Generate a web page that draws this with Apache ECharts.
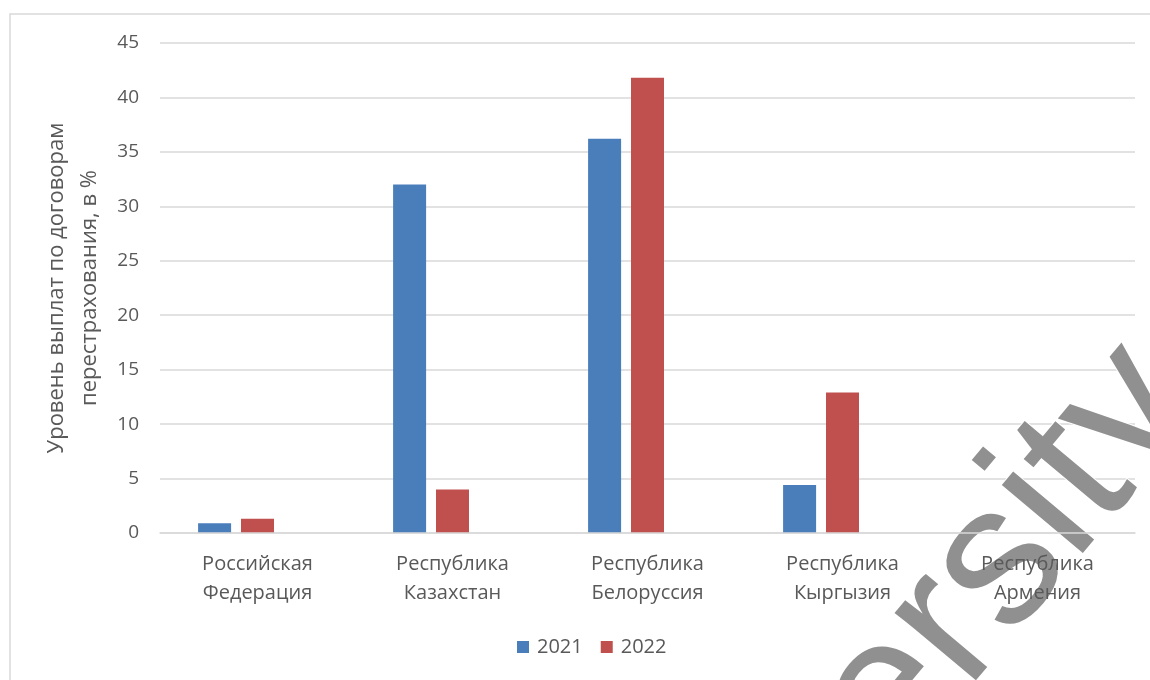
<!DOCTYPE html>
<html>
<head>
<meta charset="utf-8">
<script src="https://cdn.jsdelivr.net/npm/echarts@6/dist/echarts.min.js"></script>
<style>html,body{margin:0;padding:0;background:#fff;}#c{width:1150px;height:680px;}</style>
</head>
<body>
<div id="c"></div>
<script>
const categories = ['Российская\nФедерация', 'Республика\nКазахстан', 'Республика\nБелоруссия', 'Республика\nКыргызия', 'Республика\nАрмения'];
const values2021 = [0.9, 32.0, 36.2, 4.4, 0];
const values2022 = [1.3, 4.0, 41.8, 12.9, 0];
const yTicks = {min: 0, max: 45, interval: 5};
const yTitle = 'Уровень выплат по договорам\nперестрахования, в %';
const watermark = 'ersity';

const chart = echarts.init(document.getElementById('c'));
const font = '"Open Sans", "Noto Sans", sans-serif';
chart.setOption({
  animation: false,
  backgroundColor: '#fff',
  textStyle: {fontFamily: font},
  grid: {left: 160, right: 15, top: 43, bottom: 147},
  legend: {
    data: ['2021', '2022'], bottom: 18, left: 512,
    itemWidth: 12, itemHeight: 12, itemGap: 18,
    icon: 'rect',
    textStyle: {fontSize: 20, color: '#595959', fontFamily: font, padding: [0, 0, 0, 3]}
  },
  xAxis: {
    type: 'category', data: categories, z: 5,
    axisLine: {lineStyle: {color: '#d9d9d9', width: 1.5}},
    axisTick: {show: false},
    axisLabel: {fontSize: 20, color: '#595959', lineHeight: 29, margin: 17, interval: 0, fontFamily: font}
  },
  yAxis: {
    type: 'value', min: yTicks.min, max: yTicks.max, interval: yTicks.interval,
    name: yTitle, nameLocation: 'middle', nameGap: 34, nameRotate: 90,
    nameTextStyle: {fontSize: 22, color: '#595959', lineHeight: 33, fontFamily: font},
    axisLabel: {fontSize: 19, color: '#595959', margin: 21, fontFamily: font},
    splitLine: {lineStyle: {color: '#d9d9d9', width: 1.5}}
  },
  series: [
    {name: '2021', type: 'bar', data: values2021, barWidth: 33, barGap: '30%', itemStyle: {color: '#4A7EBB'}},
    {name: '2022', type: 'bar', data: values2022, barWidth: 33, barGap: '30%', itemStyle: {color: '#C0504D'}},
    {name: 'empty', type: 'bar', data: [], barWidth: 33, barGap: '30%'}
  ],
  graphic: [
    {type: 'rect', shape: {x: 10, y: 14, width: 1160, height: 700}, style: {fill: 'none', stroke: '#d9d9d9', lineWidth: 1.5}, silent: true},
    {type: 'text', x: 930, y: 805, rotation: 0.873, z: 1,
     style: {text: watermark, fontSize: 200, fontFamily: '"Liberation Sans", Arial, sans-serif', fill: '#909090', stroke: '#ffffff', lineWidth: 2, textAlign: 'left', textVerticalAlign: 'bottom'}, silent: true}
  ]
});
</script>
</body>
</html>
